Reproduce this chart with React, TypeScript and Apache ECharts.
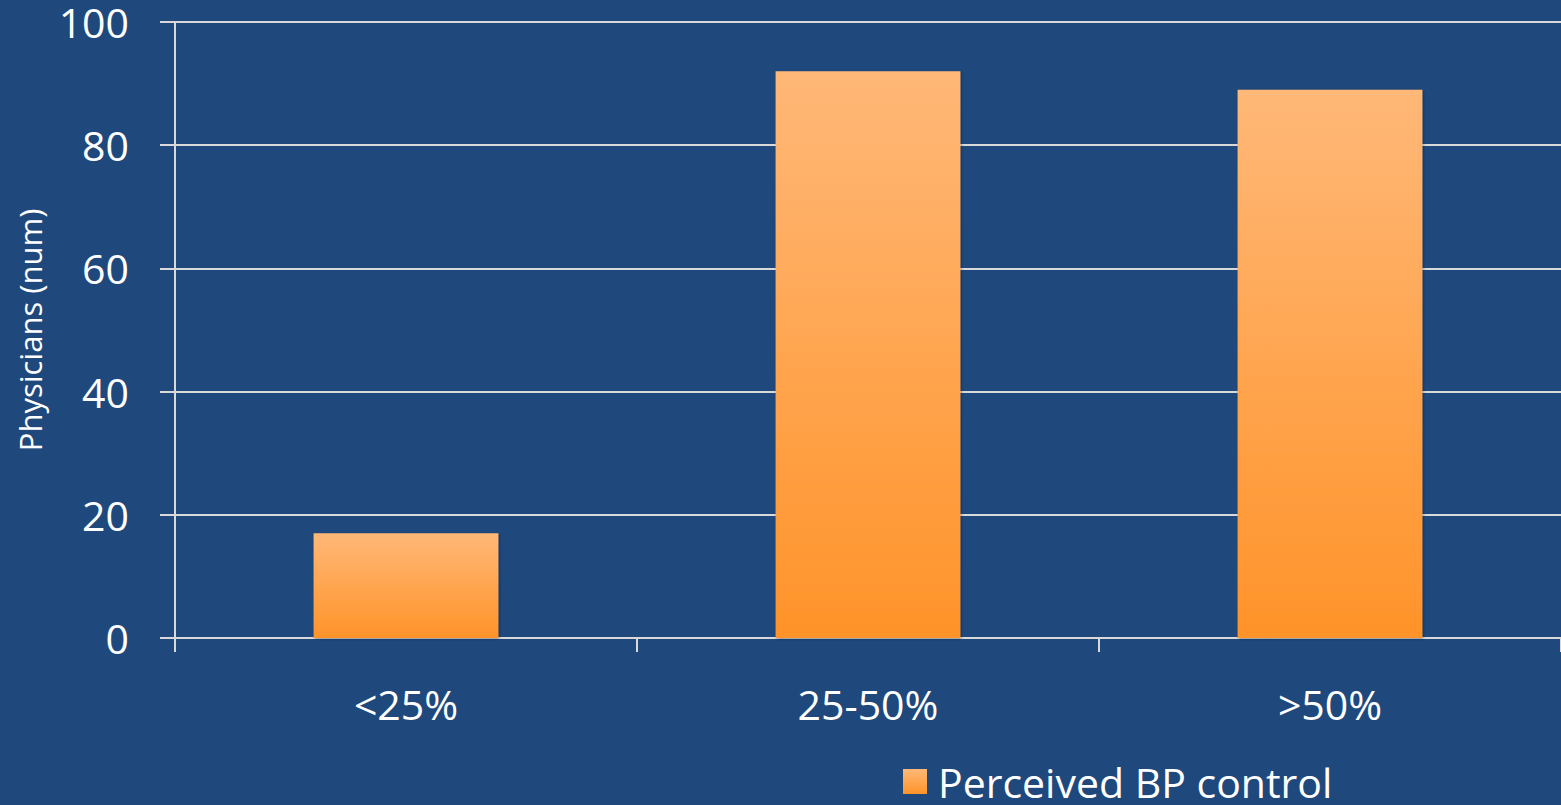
import React, { useEffect, useRef } from "react";
import * as echarts from "echarts";

const categories = ["<25%", "25-50%", ">50%"];
const values = [17, 92, 89];
const yTicks = [0, 20, 40, 60, 80, 100];
const seriesName = "Perceived BP control";
const yAxisName = "Physicians (num)";

const FONT = "Open Sans";

export default function App() {
  const ref = useRef<HTMLDivElement>(null);
  useEffect(() => {
    if (!ref.current) return;
    const chart = echarts.init(ref.current, undefined, { renderer: "svg" });
    const grad = new echarts.graphic.LinearGradient(0, 0, 0, 1, [
      { offset: 0, color: "#FFB878" },
      { offset: 1, color: "#FF9329" },
    ]);
    chart.setOption({
      animation: false,
      backgroundColor: "#1F497D",
      textStyle: { fontFamily: FONT },
      grid: { left: 175, right: 0, top: 22, bottom: 167, containLabel: false },
      legend: {
        data: [{ name: seriesName, icon: "rect" }],
        left: 898,
        top: 756,
        itemWidth: 24,
        itemHeight: 25,
        itemGap: 10,
        textStyle: {
          color: "#FFFFFF",
          fontSize: 41,
          lineHeight: 36,
          fontFamily: FONT,
          padding: [0, 0, 0, 6],
        },
      },
      xAxis: {
        type: "category",
        data: categories,
        axisLine: { lineStyle: { color: "#D9D9D9", width: 2 } },
        axisTick: { show: true, length: 14, lineStyle: { color: "#D9D9D9", width: 2 } },
        axisLabel: { color: "#FFFFFF", fontSize: 41, margin: 45, fontFamily: FONT },
      },
      yAxis: {
        type: "value",
        min: yTicks[0],
        max: yTicks[yTicks.length - 1],
        interval: 20,
        name: yAxisName,
        nameLocation: "middle",
        nameGap: 130,
        nameTextStyle: { color: "#FFFFFF", fontSize: 31, fontFamily: FONT },
        axisLine: { show: true, lineStyle: { color: "#D9D9D9", width: 2 } },
        axisTick: { show: true, length: 15, lineStyle: { color: "#D9D9D9", width: 2 } },
        axisLabel: {
          color: "#FFFFFF",
          fontSize: 41,
          lineHeight: 36,
          margin: 46,
          fontFamily: FONT,
        },
        splitLine: { show: true, lineStyle: { color: "#D9D9D9", width: 2 } },
      },
      series: [
        {
          name: seriesName,
          type: "bar",
          data: values,
          barWidth: "40%",
          itemStyle: {
            color: grad,
            shadowColor: "rgba(0,0,0,0.35)",
            shadowBlur: 3,
            shadowOffsetX: 1,
            shadowOffsetY: 1,
          },
        },
      ],
    });
    return () => chart.dispose();
  }, []);
  return <div ref={ref} style={{ position: "fixed", left: 0, top: 0, width: 1561, height: 805 }} />;
}
